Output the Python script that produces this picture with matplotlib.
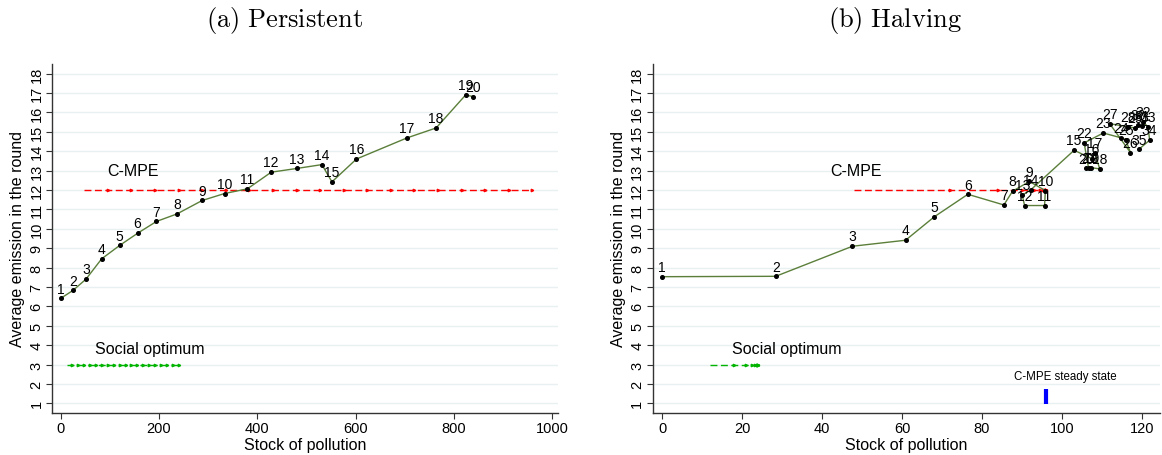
import matplotlib
matplotlib.use('Agg')
import matplotlib.pyplot as plt

plt.rcParams['font.family'] = ['Liberation Sans', 'DejaVu Sans']
plt.rcParams['mathtext.fontset'] = 'cm'

# (a) Persistent: average emission per round vs stock of pollution
rounds_p = list(range(1, 21))
stock_p = [0, 25, 51.5, 83.4, 120, 156.6, 195, 237, 288, 333.6,
           380, 428.5, 480, 531.6, 552, 602, 705, 764, 824, 839.5]
emis_p = [6.41, 6.82, 7.40, 8.45, 9.14, 9.77, 10.38, 10.77, 11.46, 11.82,
          12.06, 12.92, 13.11, 13.31, 12.42, 13.60, 14.69, 15.20, 16.90, 16.82]

# C-MPE and social optimum paths (persistent)
cmpe_stock_p = [48, 96, 144, 192, 240, 288, 336, 384, 432, 480,
                528, 576, 624, 672, 720, 768, 816, 864, 912, 960]
opt_stock_p = [12, 24, 36, 48, 60, 72, 84, 96, 108, 120,
               132, 144, 156, 168, 180, 192, 204, 216, 228, 240]

# (b) Halving
rounds_h = list(range(1, 36))
stock_h = [0, 28.4, 47.6, 60.9, 68.1, 76.5, 85.5, 87.7, 91.9, 95.9,
           95.7, 90.7, 90.1, 92.3, 103.1, 107.5, 108.3, 109.5, 107.4, 106.1,
           106.7, 105.6, 110.4, 114.9, 116.0, 117.2, 112.0, 116.5, 118.3, 119.2,
           120.0, 120.4, 121.6, 122.0, 119.3]
emis_h = [7.53, 7.55, 9.10, 9.41, 10.62, 11.78, 11.23, 11.94, 12.44, 11.97,
          11.20, 11.20, 11.73, 12.02, 14.05, 13.62, 13.90, 13.09, 13.15, 13.12,
          13.14, 14.43, 14.94, 14.69, 14.60, 13.93, 15.42, 15.27, 15.20, 15.35,
          15.30, 15.50, 15.25, 14.57, 14.10]

cmpe_stock_h = [48, 72, 84, 90, 93, 94.5, 95.25, 95.625, 95.8125, 95.90625,
                95.953, 95.977, 95.988, 95.994, 95.997]
opt_stock_h = [12, 18, 21, 22.5, 23.25, 23.625, 23.8125, 23.906, 23.953, 23.977]

cmpe_level = 12
opt_level = 3
steady_state = 96

yticks = list(range(1, 19))
xticks_p = [0, 200, 400, 600, 800, 1000]
xticks_h = [0, 20, 40, 60, 80, 100, 120]

line_col = '#5b7f3a'
grid_col = '#e8f0f1'
red = '#ff0000'
green = '#00b400'

fig = plt.figure(figsize=(11.62, 4.56), dpi=100)
ax1 = fig.add_axes([0.0447, 0.0921, 0.4355, 0.7654])
ax2 = fig.add_axes([0.5617, 0.0921, 0.4366, 0.7654])


def style(ax, xticks, xlim):
    ax.set_ylim(0.5, 18.5)
    ax.set_xlim(*xlim)
    ax.set_yticks(yticks)
    ax.set_yticklabels([str(t) for t in yticks], rotation=90, va='center')
    ax.set_xticks(xticks)
    for t in yticks:
        ax.axhline(t, color=grid_col, lw=1.0, zorder=0)
    for s in ['top', 'right']:
        ax.spines[s].set_visible(False)
    for s in ['left', 'bottom']:
        ax.spines[s].set_color('#333333')
        ax.spines[s].set_linewidth(1.0)
    ax.tick_params(direction='out', length=4, width=0.8, color='#333333',
                   labelsize=10.5, pad=2)
    ax.set_xlabel('Stock of pollution', fontsize=11.5, labelpad=1)
    ax.set_ylabel('Average emission in the round', fontsize=11.5, labelpad=3)


def draw_path(ax, xs, level, color):
    # dashed path with tiny arrow heads at each step
    ys = [level] * len(xs)
    ax.plot(xs, ys, color=color, lw=1.0, dashes=(5, 2.5), zorder=2)
    ax.plot(xs[1:], ys[1:], ls='none', marker='>', ms=1.8, color=color,
            mec=color, zorder=2)


def draw_rounds(ax, xs, ys, labels):
    ax.plot(xs, ys, color=line_col, lw=1.0, zorder=3)
    ax.plot(xs, ys, ls='none', marker='o', ms=2.6, color='black', zorder=4)
    for x, y, r in zip(xs, ys, labels):
        ax.annotate(str(r), (x, y), xytext=(0, 2.0), textcoords='offset points',
                    ha='center', va='bottom', fontsize=10, zorder=5)


# Left panel
style(ax1, xticks_p, (-17.7, 1012))
draw_path(ax1, cmpe_stock_p, cmpe_level, red)
draw_path(ax1, opt_stock_p, opt_level, green)
draw_rounds(ax1, stock_p, emis_p, rounds_p)
ax1.text(147, 13.0, 'C-MPE', ha='center', va='center', fontsize=11.5)
ax1.text(182, 3.83, 'Social optimum', ha='center', va='center', fontsize=11.5)

# Right panel
style(ax2, xticks_h, (-2.4, 124.6))
draw_path(ax2, cmpe_stock_h, cmpe_level, red)
draw_path(ax2, opt_stock_h, opt_level, green)
draw_rounds(ax2, stock_h, emis_h, rounds_h)
ax2.text(48.5, 13.0, 'C-MPE', ha='center', va='center', fontsize=11.5)
ax2.text(31.2, 3.83, 'Social optimum', ha='center', va='center', fontsize=11.5)
ax2.plot([steady_state, steady_state], [0.95, 1.75], color='#0000ff', lw=3,
         solid_capstyle='butt', zorder=3)
ax2.text(101, 2.1, 'C-MPE steady state', ha='center', va='bottom', fontsize=8.3)

fig.text(0.245, 0.955, r'$\mathrm{(a)\ Persistent}$', ha='center', va='center',
         fontsize=19)
fig.text(0.770, 0.955, r'$\mathrm{(b)\ Halving}$', ha='center', va='center',
         fontsize=19)

fig.savefig('out.png', dpi=100)
